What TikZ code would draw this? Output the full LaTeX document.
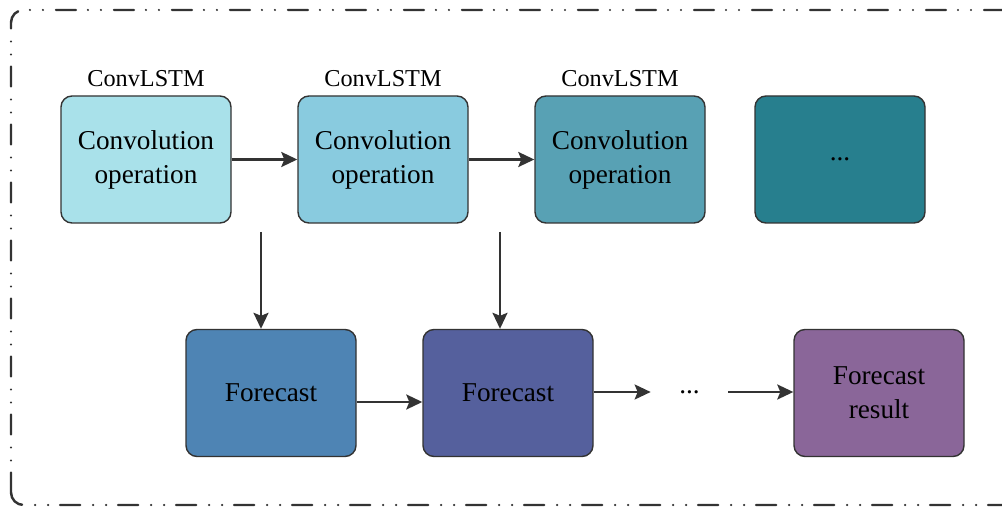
\documentclass[tikz,border=0pt]{standalone}
\usepackage{fontspec}
\setmainfont{Liberation Serif}
\usetikzlibrary{arrows.meta,positioning}
\definecolor{cone}{HTML}{A9E1EA}
\definecolor{ctwo}{HTML}{89CBDF}
\definecolor{cthree}{HTML}{58A1B4}
\definecolor{cfour}{HTML}{277F8E}
\definecolor{fone}{HTML}{4E84B4}
\definecolor{ftwo}{HTML}{55609D}
\definecolor{fres}{HTML}{8A6699}
\definecolor{linegray}{HTML}{333333}
\tikzset{
  cell/.style={draw=linegray,line width=0.8pt,rounded corners=0.22cm,
    minimum width=3.4cm,minimum height=2.54cm,align=center,
    font=\fontsize{15.5}{19.3}\selectfont},
  flow/.style={draw=linegray,line width=1.3pt,
    -{Stealth[length=0.32cm,width=0.3cm,inset=0.06cm]}},
  tag/.style={font=\fontsize{13.8}{16}\selectfont}
}
\begin{document}
\begin{tikzpicture}
	\useasboundingbox (0,0) rectangle (20.04,10.16);
	% outer frame
	\draw[linegray,line width=1.4pt,line cap=round,rounded corners=0.25cm,
		dash pattern=on 0.4cm off 0.24cm on 0cm off 0.26cm on 0cm off 0.26cm]
		(0.22,0.06) rectangle (20.3,9.96);
	% ConvLSTM row
	\node[cell,fill=cone] (c1) at (2.92,6.97) {Convolution\\operation};
	\node[cell,fill=ctwo] (c2) at (7.66,6.97) {Convolution\\operation};
	\node[cell,fill=cthree] (c3) at (12.4,6.97) {Convolution\\operation};
	\node[cell,fill=cfour] (c4) at (16.8,6.97) {...};
	\node[tag,above=0.05cm of c1] (t1) {ConvLSTM};
	\node[tag,above=0.05cm of c2] (t2) {ConvLSTM};
	\node[tag,above=0.05cm of c3] (t3) {ConvLSTM};
	% forecast row
	\node[cell,fill=fone] (f1) at (5.42,2.3) {Forecast};
	\node[cell,fill=ftwo] (f2) at (10.16,2.3) {Forecast};
	\node[font=\fontsize{15.5}{19}\selectfont,minimum width=1.54cm,inner sep=0pt] (dots) at (13.79,2.32) {...};
	\node[cell,fill=fres] (f3) at (17.58,2.3) {Forecast\\result};
	% arrows
	\draw[flow] (c1) -- (c2);
	\draw[flow] (c2) -- (c3);
	\coordinate (v1) at (5.22,5.52);
	\coordinate (v2) at (10.0,5.52);
	\draw[flow] (v1) -- (v1 |- f1.north);
	\draw[flow] (v2) -- (v2 |- f2.north);
	\draw[flow] ([yshift=-0.18cm]f1.east) -- ([yshift=-0.18cm]f2.west);
	\draw[flow] (f2.east |- dots) -- (dots);
	\draw[flow] (dots) -- (f3.west |- dots);
\end{tikzpicture}
\end{document}
